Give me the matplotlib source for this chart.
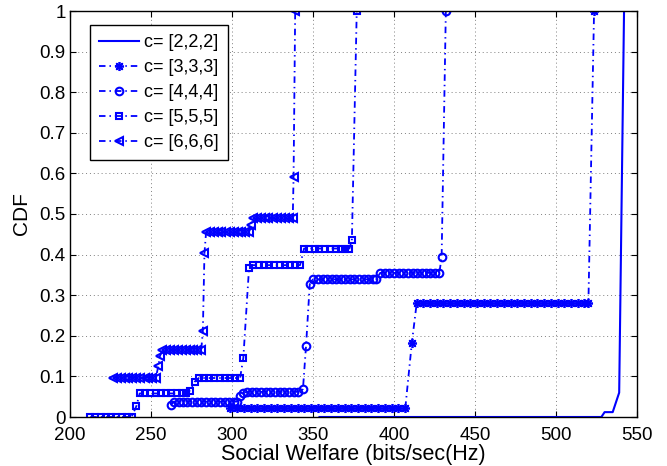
import matplotlib
matplotlib.use('Agg')
import matplotlib.pyplot as plt

plt.rcParams['font.family'] = ['Liberation Sans', 'DejaVu Sans']

# c = [2,2,2] (solid line, no markers)
c2_x = [354, 528, 530, 535, 539, 542]
c2_y = [0.0, 0.0, 0.012, 0.012, 0.06, 1.0]

# c = [3,3,3]
c3_x = [299, 303, 307.5, 311.5, 315.5, 320, 324, 328, 332, 336.5, 340.5, 344.5, 349, 353,
        357, 361, 365.5, 369.5, 373.5, 378, 382, 386, 390, 394.5, 398.5, 402.5, 407,
        411,
        414, 418, 422, 426.5, 430.5, 434.5, 439, 443, 447, 451, 455.5, 459.5, 463.5, 468,
        472, 476, 480, 484.5, 488.5, 492.5, 497, 501, 505, 509, 513.5, 517, 520,
        523.5]
c3_y = [0.023] * 27 + [0.182] + [0.28] * 27 + [1.0]

# c = [4,4,4]
c4_x = [262.4,
        264, 267, 270, 272.5, 275.5, 278.5, 281, 284, 287, 289.5, 292.5, 295.5, 298, 301, 303,
        305, 307,
        309.5, 312.5, 315, 318, 321, 323.5, 326.5, 329.5, 332, 335, 338, 341,
        343.8, 345.7, 348,
        350, 353, 356, 358.5, 361.5, 364.5, 367, 370, 373, 375.5, 378.5, 381.5, 384, 387, 389,
        391.5, 394.5, 397, 400, 403, 405.5, 408.5, 411.5, 414, 417, 420, 422.5, 425.5, 428,
        429.4, 432]
c4_y = ([0.03] + [0.038] * 15 + [0.052, 0.06] + [0.062] * 12 + [0.069, 0.175, 0.327]
        + [0.339] * 15 + [0.355] * 14 + [0.394, 1.0])

# c = [5,5,5]
c5_x = [212.5, 215.5, 219, 222, 225.5, 228.5, 232, 235, 238,
        241,
        243, 246.5, 249.5, 253, 256, 259.5, 262.5, 266, 269, 271.5,
        274, 277,
        279.5, 282.5, 286, 289, 292.5, 295.5, 299, 302, 305,
        307, 310.5,
        313, 316.5, 319.5, 323, 326, 329.5, 332.5, 336, 339, 342,
        344.5, 347.5, 351, 354, 357.5, 360.5, 364, 367, 370, 372.5,
        374, 377]
c5_y = ([0.0] * 9 + [0.027] + [0.058] * 10 + [0.065, 0.087] + [0.096] * 9
        + [0.146, 0.366] + [0.374] * 10 + [0.415] * 10 + [0.435, 1.0])

# c = [6,6,6]
c6_x = [226.5, 229, 231.5, 234, 236, 238.5, 241, 243.5, 246, 248, 250.5, 253,
        254.5, 255.5,
        257, 259.5, 262, 264, 266.5, 269, 271.5, 274, 276, 278.5, 281,
        282, 283,
        284, 286.5, 289, 291.5, 293.5, 296, 298.5, 301, 303.5, 305.5, 308, 310.5,
        311.5,
        313, 315.5, 318, 320.5, 322.5, 325, 327.5, 330, 332.5, 335, 337.5,
        338, 339]
c6_y = ([0.097] * 12 + [0.125, 0.15] + [0.165] * 11 + [0.211, 0.404] + [0.455] * 12
        + [0.473] + [0.489] * 11 + [0.59, 1.0])

labels = ['c= [2,2,2]', 'c= [3,3,3]', 'c= [4,4,4]', 'c= [5,5,5]', 'c= [6,6,6]']
x_ticks = [200, 250, 300, 350, 400, 450, 500, 550]
y_ticks = [0, 0.1, 0.2, 0.3, 0.4, 0.5, 0.6, 0.7, 0.8, 0.9, 1]
y_tick_labels = ['0', '0.1', '0.2', '0.3', '0.4', '0.5', '0.6', '0.7', '0.8', '0.9', '1']

blue = '#0000ff'
dashdot = (0, (3.6, 2.2, 0.8, 2.2))

fig = plt.figure(figsize=(6.67, 4.66), dpi=100)
ax = fig.add_axes([70 / 667, 49 / 466, 567 / 667, 406 / 466])

ax.plot(c2_x, c2_y, '-', color=blue, lw=1.5, label=labels[0])
ax.plot(c3_x, c3_y, linestyle=dashdot, color=blue, lw=1.3, marker=(8, 2, 0),
        ms=6.5, mew=1.25, label=labels[1])
ax.plot(c4_x, c4_y, linestyle=dashdot, color=blue, lw=1.3, marker='o',
        ms=5.5, mfc='none', mew=1.5, label=labels[2])
ax.plot(c5_x, c5_y, linestyle=dashdot, color=blue, lw=1.3, marker='s',
        ms=5, mfc='none', mew=1.5, label=labels[3])
ax.plot(c6_x, c6_y, linestyle=dashdot, color=blue, lw=1.3, marker='<',
        ms=6, mfc='none', mew=1.5, label=labels[4])

ax.set_xlim(200, 550)
ax.set_ylim(0, 1)
ax.set_xticks(x_ticks)
ax.set_yticks(y_ticks)
ax.set_yticklabels(y_tick_labels)
ax.tick_params(direction='in', length=4, width=0.8, labelsize=13.5,
               top=True, right=True)
ax.tick_params(axis='x', pad=7)
ax.tick_params(axis='y', pad=3)
ax.grid(True, linestyle=(0, (1, 3)), color='0.5', linewidth=0.7)
for s in ax.spines.values():
    s.set_linewidth(1.0)

ax.set_xlabel('Social Welfare (bits/sec(Hz)', fontsize=15.5, labelpad=0)
ax.set_ylabel('CDF', fontsize=15, labelpad=6)

leg = ax.legend(loc='upper left', bbox_to_anchor=(0.035, 0.966), borderaxespad=0,
                fontsize=13, fancybox=False, framealpha=1, edgecolor='black',
                handlelength=2.2, handletextpad=0.3, labelspacing=0.45,
                borderpad=0.5)
leg.get_frame().set_linewidth(1.0)

fig.savefig('out.png', dpi=100)
